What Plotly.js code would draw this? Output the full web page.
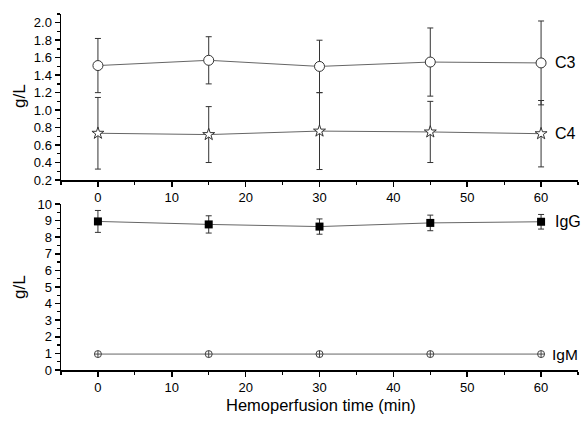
<!DOCTYPE html>
<html><head><meta charset="utf-8">
<script src="https://cdn.plot.ly/plotly-3.0.1.min.js"></script>
<style>body{margin:0;background:#fff}#c{width:581px;height:426px}</style>
</head><body><div id="c"></div>
<script>
const times = [0, 15, 30, 45, 60];
const c3 = [1.51, 1.57, 1.50, 1.55, 1.54];
const c3Err = [0.31, 0.27, 0.30, 0.39, 0.48];
const c4 = [0.735, 0.72, 0.76, 0.75, 0.73];
const c4Err = [0.41, 0.32, 0.44, 0.35, 0.38];
const igg = [8.95, 8.77, 8.64, 8.86, 8.93];
const iggErr = [0.66, 0.52, 0.46, 0.47, 0.44];
const igm = [0.96, 0.96, 0.96, 0.96, 0.96];
const igmErr = [0.05, 0.05, 0.05, 0.05, 0.05];
const seriesLabels = ['C3', 'C4', 'IgG', 'IgM'];

const lineStyle = {color: '#666', width: 1};
function errStyle(arr) {
  return {type: 'data', array: arr, visible: true, color: '#333', thickness: 1, width: 3};
}
const traces = [
  {x: times, y: c3, error_y: errStyle(c3Err), mode: 'lines+markers', xaxis: 'x', yaxis: 'y',
   line: lineStyle, marker: {symbol: 'circle', size: 10, color: '#fff', line: {color: '#333', width: 1}}},
  {x: times, y: c4, error_y: errStyle(c4Err), mode: 'lines+markers', xaxis: 'x', yaxis: 'y',
   line: lineStyle, marker: {symbol: 'star', size: 9, color: '#fff', line: {color: '#333', width: 1}}},
  {x: times, y: igg, error_y: errStyle(iggErr), mode: 'lines+markers', xaxis: 'x2', yaxis: 'y2',
   line: lineStyle, marker: {symbol: 'square', size: 8, color: '#000', line: {color: '#000', width: 0}}},
  {x: times, y: igm, error_y: errStyle(igmErr), mode: 'lines+markers', xaxis: 'x2', yaxis: 'y2',
   line: lineStyle, marker: {symbol: 'circle-cross', size: 7, color: '#fff', line: {color: '#444', width: 1}}}
];

const font = {family: 'Liberation Sans, Arial, sans-serif', color: '#000'};
const xBase = {
  range: [-5, 65], showgrid: false, zeroline: false, showline: true, linecolor: '#000', linewidth: 1.5,
  ticks: 'outside', ticklen: 5, tickwidth: 1.5, tickcolor: '#000', dtick: 10, tick0: 0,
  tickfont: {size: 13}, minor: {ticks: 'outside', ticklen: 3, tickwidth: 1.2, tickcolor: '#000', dtick: 5}
};
const layout = {
  width: 581, height: 426, showlegend: false, font: font,
  paper_bgcolor: '#fff', plot_bgcolor: '#fff',
  margin: {l: 61, r: 3, t: 14, b: 56},
  xaxis: Object.assign({}, xBase, {anchor: 'y'}),
  xaxis2: Object.assign({}, xBase, {anchor: 'y2'}),
  yaxis: {domain: [0.5337, 1], range: [0.2, 2.1], showgrid: false, zeroline: false, showline: true,
    linecolor: '#000', linewidth: 1.5, ticks: 'outside', ticklen: 5, tickwidth: 1.5, tickcolor: '#000',
    dtick: 0.2, tick0: 0, tickformat: '.1f', tickfont: {size: 13},
    minor: {ticks: 'outside', ticklen: 3, tickwidth: 1.2, tickcolor: '#000', dtick: 0.1}},
  yaxis2: {domain: [0, 0.4663], range: [0, 10], showgrid: false, zeroline: false, showline: true,
    linecolor: '#000', linewidth: 1.5, ticks: 'outside', ticklen: 5, tickwidth: 1.5, tickcolor: '#000',
    dtick: 1, tick0: 0, tickfont: {size: 13},
    minor: {ticks: 'outside', ticklen: 3, tickwidth: 1.2, tickcolor: '#000', dtick: 0.5}},
  annotations: [
    {text: seriesLabels[0], x: 61.6, y: c3[4], xref: 'x', yref: 'y', xanchor: 'left', showarrow: false, font: {size: 16}},
    {text: seriesLabels[1], x: 61.6, y: c4[4], xref: 'x', yref: 'y', xanchor: 'left', showarrow: false, font: {size: 16}},
    {text: seriesLabels[2], x: 61.6, y: igg[4], xref: 'x2', yref: 'y2', xanchor: 'left', showarrow: false, font: {size: 16}},
    {text: seriesLabels[3], x: 61.2, y: igm[4], xref: 'x2', yref: 'y2', xanchor: 'left', showarrow: false, font: {size: 15.5}},
    {text: 'g/L', x: 19, y: 96, xref: 'paper', yref: 'paper', showarrow: false, textangle: -90, font: {size: 17},
     xanchor: 'center', yanchor: 'middle'},
    {text: 'g/L', x: 19, y: 287, xref: 'paper', yref: 'paper', showarrow: false, textangle: -90, font: {size: 17},
     xanchor: 'center', yanchor: 'middle'},
    {text: 'Hemoperfusion time (min)', x: 321, y: 405, xref: 'paper', yref: 'paper', showarrow: false, font: {size: 16.5},
     xanchor: 'center', yanchor: 'middle'}
  ]
};
const plotW = 581 - 61 - 3, plotH = 426 - 14 - 56;
layout.annotations.forEach(a => {
  if (a.xref === 'paper') {
    a.x = (a.x - 61) / plotW;
    a.y = (426 - 56 - a.y) / plotH;
  }
});
Plotly.newPlot('c', traces, layout, {staticPlot: true});
</script></body></html>
